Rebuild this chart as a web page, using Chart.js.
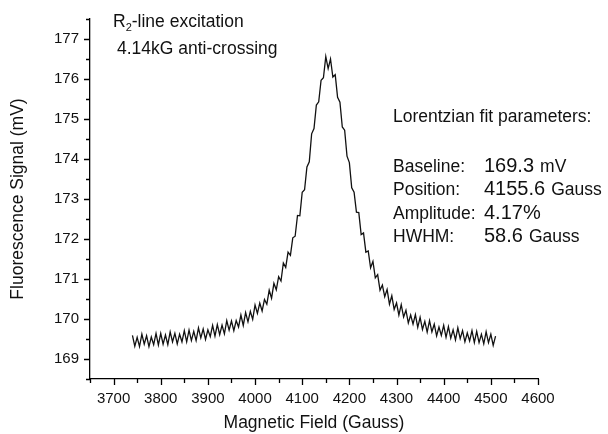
<!DOCTYPE html>
<html>
<head>
<meta charset="utf-8">
<script src="https://cdn.jsdelivr.net/npm/chart.js@4"></script>
<style>
  html, body { margin: 0; padding: 0; background: #fff; }
  #wrap { width: 608px; height: 434px; position: relative; }
</style>
</head>
<body>
<div id="wrap"><canvas id="chart"></canvas></div>
<script>
// magnetic field (Gauss) of each sample
const fieldGauss = [
  3740, 3745, 3750, 3755, 3760, 3765, 3770, 3775, 3780, 3785,
  3790, 3795, 3800, 3805, 3810, 3815, 3820, 3825, 3830, 3835,
  3840, 3845, 3850, 3855, 3860, 3865, 3870, 3875, 3880, 3885,
  3890, 3895, 3900, 3905, 3910, 3915, 3920, 3925, 3930, 3935,
  3940, 3945, 3950, 3955, 3960, 3965, 3970, 3975, 3980, 3985,
  3990, 3995, 4000, 4005, 4010, 4015, 4020, 4025, 4030, 4035,
  4040, 4045, 4050, 4055, 4060, 4065, 4070, 4075, 4080, 4085,
  4090, 4095, 4100, 4105, 4110, 4115, 4120, 4125, 4130, 4135,
  4140, 4145, 4150, 4155, 4160, 4165, 4170, 4175, 4180, 4185,
  4190, 4195, 4200, 4205, 4210, 4215, 4220, 4225, 4230, 4235,
  4240, 4245, 4250, 4255, 4260, 4265, 4270, 4275, 4280, 4285,
  4290, 4295, 4300, 4305, 4310, 4315, 4320, 4325, 4330, 4335,
  4340, 4345, 4350, 4355, 4360, 4365, 4370, 4375, 4380, 4385,
  4390, 4395, 4400, 4405, 4410, 4415, 4420, 4425, 4430, 4435,
  4440, 4445, 4450, 4455, 4460, 4465, 4470, 4475, 4480, 4485,
  4490, 4495, 4500, 4505, 4510
];

// fluorescence signal (mV)
const signalMv = [
  169.59, 169.32, 169.54, 169.31, 169.62, 169.37, 169.58, 169.31, 169.55, 169.36,
  169.64, 169.35, 169.64, 169.37, 169.60, 169.36, 169.68, 169.43, 169.64, 169.38,
  169.62, 169.43, 169.71, 169.43, 169.72, 169.46, 169.69, 169.46, 169.78, 169.53,
  169.75, 169.49, 169.73, 169.56, 169.84, 169.57, 169.86, 169.61, 169.85, 169.63,
  169.96, 169.72, 169.95, 169.71, 169.96, 169.80, 170.10, 169.84, 170.16, 169.93,
  170.19, 169.99, 170.35, 170.14, 170.40, 170.20, 170.49, 170.37, 170.72, 170.52,
  170.89, 170.73, 171.06, 170.95, 171.40, 171.29, 171.67, 171.59, 172.03, 172.07,
  172.59, 172.58, 173.17, 173.23, 173.80, 173.93, 174.63, 174.76, 175.35, 175.43,
  175.97, 176.03, 176.56, 176.26, 176.50, 176.05, 176.11, 175.54, 175.42, 174.80,
  174.72, 174.07, 173.91, 173.28, 173.17, 172.67, 172.66, 172.11, 172.15, 171.67,
  171.70, 171.28, 171.44, 171.03, 171.11, 170.72, 170.85, 170.56, 170.74, 170.37,
  170.58, 170.24, 170.40, 170.10, 170.36, 170.05, 170.22, 169.90, 170.10, 169.87,
  170.11, 169.79, 170.04, 169.74, 169.94, 169.67, 169.96, 169.68, 169.87, 169.58,
  169.80, 169.59, 169.84, 169.54, 169.81, 169.52, 169.73, 169.48, 169.78, 169.51,
  169.71, 169.43, 169.65, 169.45, 169.71, 169.41, 169.69, 169.41, 169.62, 169.38,
  169.68, 169.41, 169.62, 169.34, 169.57
];

const xMin = 3650, xMax = 4600;
const yMin = 168.5, yMax = 177.5;

const fitLabels = ['Baseline:', 'Position:', 'Amplitude:', 'HWHM:'];
const fitValues = ['169.3', '4155.6', '4.17%', '58.6'];
const fitUnits = ['mV', 'Gauss', '', 'Gauss'];

const FONT = '"Liberation Sans", Arial, sans-serif';

// outward tick marks, long on labelled values, short in between
const tickMarks = {
  id: 'tickMarks',
  afterDraw(chart) {
    const ctx = chart.ctx;
    const xs = chart.scales.x, ys = chart.scales.y;
    ctx.save();
    ctx.strokeStyle = '#000';
    ctx.lineWidth = 1.3;
    ctx.beginPath();
    xs.ticks.forEach(t => {
      const px = Math.round(xs.getPixelForValue(t.value)) + 0.5;
      const len = t.value % 100 === 0 ? 6 : 4;
      ctx.moveTo(px, xs.top);
      ctx.lineTo(px, xs.top + len);
    });
    ys.ticks.forEach(t => {
      const py = Math.round(ys.getPixelForValue(t.value)) + 0.5;
      const len = Number.isInteger(t.value) ? 6 : 4;
      ctx.moveTo(ys.right, py);
      ctx.lineTo(ys.right - len, py);
    });
    ctx.stroke();
    ctx.restore();
  }
};

// text notes on the plot
const notes = {
  id: 'notes',
  afterDraw(chart) {
    const ctx = chart.ctx;
    ctx.save();
    ctx.fillStyle = '#111';
    ctx.textBaseline = 'alphabetic';
    ctx.textAlign = 'left';

    ctx.font = '17.5px ' + FONT;
    ctx.fillText('R', 113, 27);
    let w = ctx.measureText('R').width;
    ctx.font = '11px ' + FONT;
    ctx.fillText('2', 113 + w, 31);
    let w2 = ctx.measureText('2').width;
    ctx.font = '17.5px ' + FONT;
    ctx.fillText('-line excitation', 113 + w + w2, 27);
    ctx.fillText('4.14kG anti-crossing', 117, 54);

    ctx.fillText('Lorentzian fit parameters:', 393, 122);
    fitLabels.forEach((lab, i) => {
      const y = 172 + i * 23.4;
      ctx.font = '17.5px ' + FONT;
      ctx.fillText(lab, 393, y);
      ctx.font = '20px ' + FONT;
      ctx.fillText(fitValues[i], 484, y);
      const vw = ctx.measureText(fitValues[i]).width;
      if (fitUnits[i]) {
        ctx.font = '17.5px ' + FONT;
        ctx.fillText(fitUnits[i], 484 + vw + 6, y);
      }
    });
    ctx.restore();
  }
};

const points = fieldGauss.map((x, i) => ({ x: x, y: signalMv[i] }));

new Chart(document.getElementById('chart'), {
  type: 'line',
  data: {
    datasets: [{
      data: points,
      borderColor: '#111',
      borderWidth: 1.3,
      pointRadius: 0,
      tension: 0,
      fill: false
    }]
  },
  options: {
    responsive: true,
    maintainAspectRatio: false,
    animation: false,
    layout: { padding: { top: 19, right: 70, left: 0, bottom: 0 } },
    plugins: { legend: { display: false }, tooltip: { enabled: false } },
    scales: {
      x: {
        type: 'linear',
        min: xMin,
        max: xMax,
        grid: { display: false },
        border: { display: true, color: '#000', width: 1.3 },
        ticks: {
          stepSize: 50,
          autoSkip: false,
          maxRotation: 0,
          padding: 3,
          color: '#111',
          font: { family: FONT, size: 15 },
          callback: v => (v % 100 === 0 ? String(v) : '')
        },
        title: {
          display: true,
          text: 'Magnetic Field (Gauss)',
          color: '#111',
          font: { family: FONT, size: 17.5 },
          padding: { top: 4, bottom: 0 }
        },
        afterFit: s => { s.height = 55; }
      },
      y: {
        type: 'linear',
        min: yMin,
        max: yMax,
        grid: { display: false },
        border: { display: true, color: '#000', width: 1.3 },
        ticks: {
          stepSize: 0.5,
          autoSkip: false,
          padding: 3,
          color: '#111',
          font: { family: FONT, size: 15 },
          callback: v => (Number.isInteger(v) ? String(v) : '')
        },
        title: {
          display: true,
          text: 'Fluorescence Signal (mV)',
          color: '#111',
          font: { family: FONT, size: 17.5 },
          padding: { top: 8, bottom: 4 }
        },
        afterFit: s => { s.width = 90; }
      }
    }
  },
  plugins: [tickMarks, notes]
});
</script>
</body>
</html>
